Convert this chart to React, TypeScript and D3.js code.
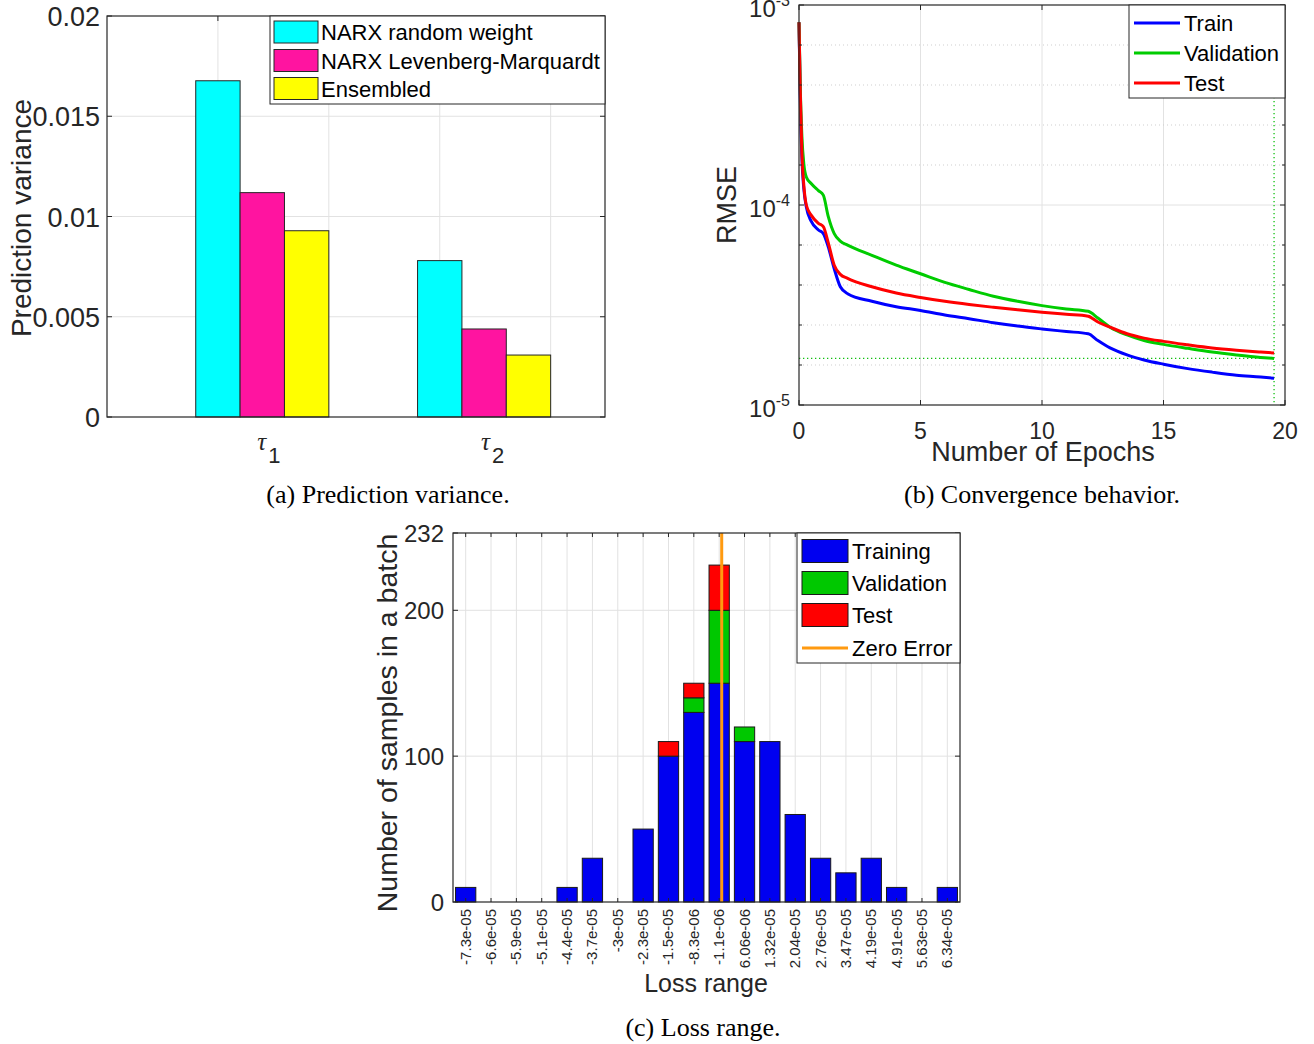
import React, { useEffect, useRef } from 'react';
import * as d3 from 'd3';

// ---------- (a) prediction variance ----------
const horizonSubscripts = ['1', '2'];
const varianceSeries = ['NARX random weight', 'NARX Levenberg-Marquardt', 'Ensembled'];
const varianceRandom = [0.01677, 0.0078];
const varianceLM = [0.01119, 0.00439];
const varianceEnsemble = [0.00929, 0.00309];
const varianceTicks = [0, 0.005, 0.01, 0.015, 0.02];
const varianceTickLabels = ['0', '0.005', '0.01', '0.015', '0.02'];
const varianceGridX = [0.8, 1.3, 1.8, 2.3];

// ---------- (b) convergence ----------
const epochs = [0, 0.05, 0.12, 0.2, 0.3, 0.5, 0.8, 1.0, 1.2, 1.45, 1.7, 2, 3, 4, 5, 6, 7, 8, 9, 10, 11, 11.9, 12.3, 12.8, 13.5, 14.2, 15, 16, 17, 18, 19, 19.55];
const trainRmse = [8.2e-4, 3.5e-4, 1.7e-4, 1.2e-4, 9.8e-5, 8.3e-5, 7.5e-5, 7.2e-5, 6.2e-5, 4.8e-5, 3.9e-5, 3.6e-5, 3.3e-5, 3.1e-5, 2.97e-5, 2.82e-5, 2.7e-5, 2.58e-5, 2.48e-5, 2.4e-5, 2.33e-5, 2.27e-5, 2.1e-5, 1.93e-5, 1.78e-5, 1.68e-5, 1.6e-5, 1.52e-5, 1.46e-5, 1.41e-5, 1.38e-5, 1.36e-5];
const validRmse = [8.2e-4, 4.0e-4, 2.2e-4, 1.6e-4, 1.38e-4, 1.28e-4, 1.18e-4, 1.12e-4, 8.8e-5, 7.2e-5, 6.6e-5, 6.3e-5, 5.6e-5, 5.0e-5, 4.53e-5, 4.1e-5, 3.78e-5, 3.5e-5, 3.3e-5, 3.14e-5, 3.02e-5, 2.94e-5, 2.72e-5, 2.45e-5, 2.24e-5, 2.1e-5, 2.01e-5, 1.92e-5, 1.84e-5, 1.78e-5, 1.73e-5, 1.71e-5];
const testRmse = [8.2e-4, 3.8e-4, 1.8e-4, 1.25e-4, 1.0e-4, 8.9e-5, 8.1e-5, 7.8e-5, 6.5e-5, 5.0e-5, 4.5e-5, 4.3e-5, 3.9e-5, 3.63e-5, 3.45e-5, 3.3e-5, 3.18e-5, 3.08e-5, 2.99e-5, 2.91e-5, 2.84e-5, 2.78e-5, 2.6e-5, 2.45e-5, 2.27e-5, 2.16e-5, 2.08e-5, 2.0e-5, 1.93e-5, 1.88e-5, 1.84e-5, 1.82e-5];
const rmseSeries = ['Train', 'Validation', 'Test'];
const rmseDecades = [-5, -4, -3];
const rmseMinorExponents = [-3.2, -3.4, -3.6, -3.8, -4.2, -4.4, -4.6, -4.8];
const epochTicks = [0, 5, 10, 15, 20];
const bestEpoch = 19.55;
const bestValidRmse = 1.71e-5;

// ---------- (c) error histogram ----------
const binLabels = ['-7.3e-05', '-6.6e-05', '-5.9e-05', '-5.1e-05', '-4.4e-05', '-3.7e-05', '-3e-05', '-2.3e-05', '-1.5e-05', '-8.3e-06', '-1.1e-06', '6.06e-06', '1.32e-05', '2.04e-05', '2.76e-05', '3.47e-05', '4.19e-05', '4.91e-05', '5.63e-05', '6.34e-05'];
const trainingCounts = [10, 0, 0, 0, 10, 30, 0, 50, 100, 130, 150, 110, 110, 60, 30, 20, 30, 10, 0, 10];
const validationCounts = [0, 0, 0, 0, 0, 0, 0, 0, 0, 10, 50, 10, 0, 0, 0, 0, 0, 0, 0, 0];
const testCounts = [0, 0, 0, 0, 0, 0, 0, 0, 10, 10, 31, 0, 0, 0, 0, 0, 0, 0, 0, 0];
const histSeries = ['Training', 'Validation', 'Test', 'Zero Error'];
const countAxisMax = 253;
const countTicks = [0, 100, 200, countAxisMax];
const countTickLabels = ['0', '100', '200', '232'];
const zeroErrorPos = 11.1;

const FONT = '"Liberation Sans", Arial, Helvetica, sans-serif';
const SERIF = '"Liberation Serif", "Times New Roman", Times, serif';
const INK = '#262626';
const GRID = '#e2e2e2';

function frame(g: any, L: number, T: number, R: number, B: number) {
  g.append('rect')
    .attr('x', L).attr('y', T).attr('width', R - L).attr('height', B - T)
    .attr('fill', 'none').attr('stroke', INK).attr('stroke-width', 1.2);
}

function drawVariance(g: any) {
  const L = 107, R = 605, T = 16, B = 417;
  const x = d3.scaleLinear().domain([0.3, 2.545]).range([L, R]);
  const y = d3.scaleLinear().domain([0, 0.02]).range([B, T]);

  g.selectAll('line.hg').data(varianceTicks.slice(1, -1)).enter().append('line')
    .attr('x1', L).attr('x2', R).attr('y1', (d: number) => y(d)).attr('y2', (d: number) => y(d))
    .attr('stroke', GRID);
  g.selectAll('line.vg').data(varianceGridX).enter().append('line')
    .attr('x1', (d: number) => x(d)).attr('x2', (d: number) => x(d)).attr('y1', T).attr('y2', B)
    .attr('stroke', GRID);

  const series = [varianceRandom, varianceLM, varianceEnsemble];
  const colors = ['#00ffff', '#ff14a0', '#ffff00'];
  const bw = 0.2;
  series.forEach((vals, s) => {
    g.selectAll('rect.s' + s).data(vals).enter().append('rect')
      .attr('x', (d: number, i: number) => x(i + 1 + (s - 1) * bw - bw / 2))
      .attr('width', x(bw) - x(0))
      .attr('y', (d: number) => y(d))
      .attr('height', (d: number) => B - y(d))
      .attr('fill', colors[s]).attr('stroke', INK).attr('stroke-width', 1);
  });

  // ticks
  varianceTicks.forEach(v => {
    g.append('line').attr('x1', L).attr('x2', L + 5).attr('y1', y(v)).attr('y2', y(v)).attr('stroke', INK);
    g.append('line').attr('x1', R - 5).attr('x2', R).attr('y1', y(v)).attr('y2', y(v)).attr('stroke', INK);
  });
  varianceGridX.forEach(v => {
    g.append('line').attr('x1', x(v)).attr('x2', x(v)).attr('y1', T).attr('y2', T + 5).attr('stroke', INK);
  });
  frame(g, L, T, R, B);

  g.selectAll('text.yt').data(varianceTicks).enter().append('text')
    .attr('x', L - 7).attr('y', (d: number) => y(d) + 10)
    .attr('text-anchor', 'end').attr('font-family', FONT).attr('font-size', 27).attr('fill', INK)
    .text((d: number, i: number) => varianceTickLabels[i]);

  horizonSubscripts.forEach((sub, i) => {
    const cx = x(i + 1);
    g.append('text').attr('x', cx - 5 + i * 2).attr('y', 450)
      .attr('font-family', SERIF).attr('font-style', 'italic').attr('font-size', 25).attr('fill', INK)
      .text('τ');
    g.append('text').attr('x', cx + 6 + i * 2).attr('y', 463)
      .attr('font-family', FONT).attr('font-size', 22).attr('fill', INK)
      .text(sub);
  });

  g.append('text').attr('transform', 'translate(31,218) rotate(-90)')
    .attr('text-anchor', 'middle').attr('font-family', FONT).attr('font-size', 28).attr('fill', INK)
    .text('Prediction variance');

  // legend
  const lg = g.append('g');
  lg.append('rect').attr('x', 270).attr('y', T).attr('width', R - 270).attr('height', 88)
    .attr('fill', '#fff').attr('stroke', INK).attr('stroke-width', 1);
  const rows = [32, 60.5, 88.5];
  varianceSeries.forEach((name, i) => {
    lg.append('rect').attr('x', 274).attr('y', rows[i] - 11).attr('width', 44).attr('height', 22)
      .attr('fill', colors[i]).attr('stroke', INK).attr('stroke-width', 1);
    lg.append('text').attr('x', 321).attr('y', rows[i] + 8)
      .attr('font-family', FONT).attr('font-size', 22).attr('fill', '#000').text(name);
  });
}

function drawConvergence(g: any) {
  const L = 799, R = 1285, T = 5, B = 405;
  const x = d3.scaleLinear().domain([0, 20]).range([L, R]);
  const y = d3.scaleLog().domain([1e-5, 1e-3]).range([B, T]);

  // grid
  epochTicks.slice(1, -1).forEach(v => {
    g.append('line').attr('x1', x(v)).attr('x2', x(v)).attr('y1', T).attr('y2', B).attr('stroke', GRID);
  });
  g.append('line').attr('x1', L).attr('x2', R).attr('y1', y(1e-4)).attr('y2', y(1e-4)).attr('stroke', GRID);
  rmseMinorExponents.forEach(e => {
    g.append('line').attr('x1', L).attr('x2', R).attr('y1', y(10 ** e)).attr('y2', y(10 ** e))
      .attr('stroke', '#cfcfcf').attr('stroke-dasharray', '1,3');
  });

  // best validation markers
  g.append('line').attr('x1', L).attr('x2', x(bestEpoch)).attr('y1', y(bestValidRmse)).attr('y2', y(bestValidRmse))
    .attr('stroke', '#10c010').attr('stroke-width', 1.3).attr('stroke-dasharray', '1.3,2.7');
  g.append('line').attr('x1', x(bestEpoch)).attr('x2', x(bestEpoch)).attr('y1', T).attr('y2', B)
    .attr('stroke', '#10c010').attr('stroke-width', 1.3).attr('stroke-dasharray', '1.3,2.7');

  const colors = ['#0000ff', '#00cc00', '#ff0000'];
  const line = d3.line<number>()
    .x((d, i) => x(epochs[i]))
    .y(d => y(d))
    .curve(d3.curveMonotoneX);
  [trainRmse, validRmse, testRmse].forEach((vals, s) => {
    g.append('path').attr('d', line(vals)).attr('fill', 'none')
      .attr('stroke', colors[s]).attr('stroke-width', 3).attr('stroke-linejoin', 'round');
  });

  // ticks
  epochTicks.forEach(v => {
    g.append('line').attr('x1', x(v)).attr('x2', x(v)).attr('y1', B).attr('y2', B - 5).attr('stroke', INK);
    g.append('line').attr('x1', x(v)).attr('x2', x(v)).attr('y1', T).attr('y2', T + 5).attr('stroke', INK);
  });
  [...rmseDecades, ...rmseMinorExponents].forEach(e => {
    const len = Number.isInteger(e) ? 5 : 3;
    g.append('line').attr('x1', L).attr('x2', L + len).attr('y1', y(10 ** e)).attr('y2', y(10 ** e)).attr('stroke', INK);
    g.append('line').attr('x1', R - len).attr('x2', R).attr('y1', y(10 ** e)).attr('y2', y(10 ** e)).attr('stroke', INK);
  });
  frame(g, L, T, R, B);

  g.selectAll('text.xt').data(epochTicks).enter().append('text')
    .attr('x', (d: number) => x(d)).attr('y', 439)
    .attr('text-anchor', 'middle').attr('font-family', FONT).attr('font-size', 23).attr('fill', INK)
    .text((d: number) => String(d));

  rmseDecades.forEach(e => {
    const t = g.append('text').attr('x', 790).attr('y', y(10 ** e) + 12)
      .attr('text-anchor', 'end').attr('font-family', FONT).attr('font-size', 24).attr('fill', INK);
    t.append('tspan').text('10');
    t.append('tspan').attr('dy', -11).attr('font-size', 16).text(String(e));
  });

  g.append('text').attr('transform', 'translate(736,205) rotate(-90)')
    .attr('text-anchor', 'middle').attr('font-family', FONT).attr('font-size', 27).attr('fill', INK)
    .text('RMSE');
  g.append('text').attr('x', 1043).attr('y', 461)
    .attr('text-anchor', 'middle').attr('font-family', FONT).attr('font-size', 27).attr('fill', INK)
    .text('Number of Epochs');

  // legend
  const lg = g.append('g');
  lg.append('rect').attr('x', 1129).attr('y', T).attr('width', R - 1129).attr('height', 93)
    .attr('fill', '#fff').attr('stroke', INK).attr('stroke-width', 1);
  const rows = [23, 53, 83];
  rmseSeries.forEach((name, i) => {
    lg.append('line').attr('x1', 1134).attr('x2', 1180).attr('y1', rows[i]).attr('y2', rows[i])
      .attr('stroke', colors[i]).attr('stroke-width', 3);
    lg.append('text').attr('x', 1184).attr('y', rows[i] + 8)
      .attr('font-family', FONT).attr('font-size', 22).attr('fill', '#000').text(name);
  });
}

function drawHistogram(g: any) {
  const L = 453, R = 960, T = 533, B = 902;
  const x = d3.scaleLinear().domain([0.5, binLabels.length + 0.5]).range([L, R]);
  const y = d3.scaleLinear().domain([0, countAxisMax]).range([B, T]);
  const bins = binLabels.map((_, i) => i + 1);

  bins.forEach(b => {
    g.append('line').attr('x1', x(b)).attr('x2', x(b)).attr('y1', T).attr('y2', B).attr('stroke', GRID);
  });
  countTicks.slice(1, -1).forEach(v => {
    g.append('line').attr('x1', L).attr('x2', R).attr('y1', y(v)).attr('y2', y(v)).attr('stroke', GRID);
  });

  const table = binLabels.map((label, i) => ({
    bin: i + 1, training: trainingCounts[i], validation: validationCounts[i], test: testCounts[i],
  }));
  const keys = ['training', 'validation', 'test'];
  const colors = ['#0000f0', '#00c800', '#ff0000'];
  const stacked = d3.stack<any>().keys(keys)(table);
  const bw = 0.8;
  stacked.forEach((layer, s) => {
    g.selectAll('rect.k' + s).data(layer.filter(d => d[1] - d[0] > 0)).enter().append('rect')
      .attr('x', (d: any) => x(d.data.bin - bw / 2))
      .attr('width', x(bw) - x(0))
      .attr('y', (d: any) => y(d[1]))
      .attr('height', (d: any) => y(d[0]) - y(d[1]))
      .attr('fill', colors[s]).attr('stroke', '#1a1a1a').attr('stroke-width', 1);
  });

  g.append('line').attr('x1', x(zeroErrorPos)).attr('x2', x(zeroErrorPos)).attr('y1', T).attr('y2', B)
    .attr('stroke', '#ff9a10').attr('stroke-width', 3);

  // ticks
  bins.forEach(b => {
    g.append('line').attr('x1', x(b)).attr('x2', x(b)).attr('y1', T).attr('y2', T + 4).attr('stroke', INK);
    g.append('line').attr('x1', x(b)).attr('x2', x(b)).attr('y1', B).attr('y2', B - 4).attr('stroke', INK);
  });
  countTicks.forEach(v => {
    g.append('line').attr('x1', L).attr('x2', L + 5).attr('y1', y(v)).attr('y2', y(v)).attr('stroke', INK);
    g.append('line').attr('x1', R - 5).attr('x2', R).attr('y1', y(v)).attr('y2', y(v)).attr('stroke', INK);
  });
  frame(g, L, T, R, B);

  g.selectAll('text.yt').data(countTicks).enter().append('text')
    .attr('x', 444).attr('y', (d: number) => y(d) + 9)
    .attr('text-anchor', 'end').attr('font-family', FONT).attr('font-size', 24).attr('fill', INK)
    .text((d: number, i: number) => countTickLabels[i]);

  g.selectAll('text.xt').data(binLabels).enter().append('text')
    .attr('transform', (d: string, i: number) => `translate(${x(i + 1) + 5},909) rotate(-90)`)
    .attr('text-anchor', 'end').attr('font-family', FONT).attr('font-size', 15).attr('fill', INK)
    .text((d: string) => d);

  g.append('text').attr('transform', 'translate(397,723) rotate(-90)')
    .attr('text-anchor', 'middle').attr('font-family', FONT).attr('font-size', 28.5).attr('fill', INK)
    .text('Number of samples in a batch');
  g.append('text').attr('x', 706).attr('y', 992)
    .attr('text-anchor', 'middle').attr('font-family', FONT).attr('font-size', 25).attr('fill', INK)
    .text('Loss range');

  // legend
  const lg = g.append('g');
  lg.append('rect').attr('x', 797).attr('y', T).attr('width', R - 797).attr('height', 130)
    .attr('fill', '#fff').attr('stroke', INK).attr('stroke-width', 1);
  const rows = [551, 583, 615, 648];
  histSeries.forEach((name, i) => {
    if (i < 3) {
      lg.append('rect').attr('x', 802).attr('y', rows[i] - 11.5).attr('width', 46).attr('height', 23)
        .attr('fill', colors[i]).attr('stroke', '#1a1a1a').attr('stroke-width', 1);
    } else {
      lg.append('line').attr('x1', 802).attr('x2', 848).attr('y1', rows[i]).attr('y2', rows[i])
        .attr('stroke', '#ff9a10').attr('stroke-width', 3);
    }
    lg.append('text').attr('x', 852).attr('y', rows[i] + 8)
      .attr('font-family', FONT).attr('font-size', 22).attr('fill', '#000').text(name);
  });
}

export default function App() {
  const ref = useRef<SVGSVGElement>(null);

  useEffect(() => {
    const svg = d3.select(ref.current);
    svg.selectAll('*').remove();
    drawVariance(svg.append('g'));
    drawConvergence(svg.append('g'));
    drawHistogram(svg.append('g'));

    const captions = [
      { text: '(a) Prediction variance.', x: 388, y: 503 },
      { text: '(b) Convergence behavior.', x: 1042, y: 503 },
      { text: '(c) Loss range.', x: 703, y: 1036 },
    ];
    svg.selectAll('text.cap').data(captions).enter().append('text')
      .attr('x', d => d.x).attr('y', d => d.y)
      .attr('text-anchor', 'middle').attr('font-family', SERIF).attr('font-size', 26).attr('fill', '#000')
      .text(d => d.text);
  }, []);

  return (
    <div style={{ position: 'absolute', left: 0, top: 0 }}>
      <svg ref={ref} width={1314} height={1044} style={{ display: 'block', background: '#fff' }} />
    </div>
  );
}
